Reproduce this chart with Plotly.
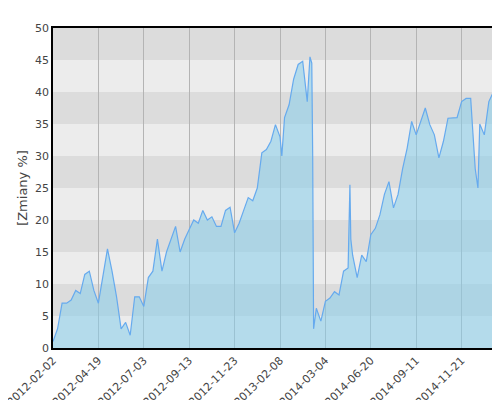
import plotly.graph_objects as go

# trading-day index and change in %
idx = [0, 5, 10, 15, 20, 25, 30, 35, 40, 45, 50, 55, 60, 65, 70, 75, 80, 85, 90, 95,
       100, 105, 110, 115, 120, 125, 130, 135, 140, 145, 150, 155, 160, 165, 170, 175,
       180, 185, 190, 195, 200, 205, 210, 215, 220, 225, 230, 235, 240, 245, 250, 252,
       255, 260, 265, 270, 275, 280, 283, 285, 286, 287, 290, 295, 300, 305, 310, 315,
       320, 325, 327, 328, 330, 335, 340, 345, 350, 355, 360, 365, 370, 375, 380, 385,
       390, 395, 400, 405, 410, 415, 420, 425, 430, 435, 440, 445, 450, 455, 460, 465,
       468, 470, 475, 480, 485, 488, 490, 495, 500]
zmiana = [1, 3, 7, 7, 7.5, 9, 8.5, 11.5, 12, 9, 7, 11, 15.5, 12, 8, 3, 4, 2, 8, 8,
          6.5, 11, 12, 17, 12, 15, 17, 19, 15, 17, 18.5, 20, 19.5, 21.5, 20, 20.5,
          19, 19, 21.5, 22, 18, 19.5, 21.5, 23.5, 23, 25, 30.5, 31, 32.3, 34.9, 33, 30,
          36, 38, 42, 44.3, 44.8, 38.5, 45.5, 44.5, 30, 3, 6.2, 4.2, 7.3, 7.8, 8.8, 8.3,
          12, 12.5, 25.5, 17, 14.5, 11, 14.5, 13.5, 17.7, 18.7, 20.8, 24, 26, 21.9, 24, 28,
          31.2, 35.4, 33.3, 35.4, 37.5, 34.9, 33.3, 29.7, 32.3, 35.9, 36, 36, 38.5, 39, 39, 28,
          25, 35, 33.3, 38.5, 40, 41, 49.5, 47.5, 47.5]
tick_idx = [0, 50, 100, 150, 200, 250, 300, 350, 400, 450]
tick_txt = ["2012-02-02", "2012-04-19", "2012-07-03", "2012-09-13", "2012-11-23",
            "2013-02-08", "2014-03-04", "2014-06-20", "2014-09-11", "2014-11-21"]

fig = go.Figure()
fig.add_trace(go.Scatter(x=idx, y=zmiana, mode="lines", fill="tozeroy",
                         line=dict(color="#66aaee", width=1.2),
                         fillcolor="rgba(135,206,235,0.55)"))

# alternating horizontal bands
for lo in range(0, 50, 5):
    fig.add_shape(type="rect", xref="paper", x0=0, x1=1, y0=lo, y1=lo + 5,
                  fillcolor="#dcdcdc" if (lo // 5) % 2 else "#ececec",
                  line_width=0, layer="below")

fig.update_layout(
    width=500, height=400, showlegend=False,
    margin=dict(l=45, r=1, t=20, b=60),
    paper_bgcolor="white", plot_bgcolor="#ececec",
    font=dict(family="DejaVu Sans", size=11, color="#444"),
    xaxis=dict(range=[0, 500], tickmode="array", tickvals=tick_idx, ticktext=tick_txt,
               tickangle=-45, showgrid=True, gridcolor="#b4b4b4", gridwidth=1,
               showline=True, linecolor="black", linewidth=1.5, mirror=True,
               zeroline=False, layer="above traces", ticks="",
               automargin=False, ticklabeloverflow="allow"),
    yaxis=dict(range=[0, 50], dtick=5, showgrid=False, zeroline=False,
               showline=True, linecolor="black", linewidth=1.5, mirror=True,
               title=dict(text="[Zmiany %]", standoff=4), ticks="",
               automargin=False),
)
fig.write_html("out.html")
